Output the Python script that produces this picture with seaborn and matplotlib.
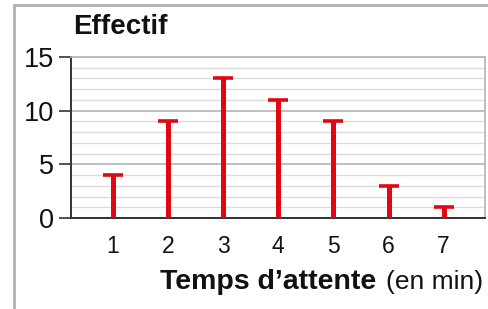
import numpy as np
import matplotlib
matplotlib.use("Agg")
import matplotlib.pyplot as plt
from matplotlib.lines import Line2D
from matplotlib.ticker import MultipleLocator
import seaborn as sns

# ----------------------------------------------------------
# Data
# ----------------------------------------------------------
temps = [1, 2, 3, 4, 5, 6, 7]
effectifs = [4, 9, 13, 11, 9, 3, 1]
y_ticks = [0, 5, 10, 15]

RED = "#e30613"
INK = "#111111"

sns.set_theme(style="white")
plt.rcParams["font.family"] = ["Liberation Sans", "DejaVu Sans"]
plt.rcParams["text.color"] = INK
plt.rcParams["xtick.color"] = INK
plt.rcParams["ytick.color"] = INK

fig = plt.figure(figsize=(4.89, 3.09), dpi=100)
ax = fig.add_axes([0.1452, 0.2945, 0.8466, 0.521])

# stems + caps
ax.vlines(temps, 0, effectifs, color=RED, linewidth=3.6, zorder=3)
sns.scatterplot(x=temps, y=effectifs, marker="_", s=200, color=RED,
                linewidth=2.6, ax=ax, zorder=4, legend=False)

ax.set_xlim(0.24, 7.75)
ax.set_ylim(0, 15)
ax.set_xticks(temps)
ax.set_yticks(y_ticks)
ax.yaxis.set_minor_locator(MultipleLocator(1))

ax.grid(which="minor", axis="y", color="#dcdcdc", linewidth=1.0)
ax.grid(which="major", axis="y", color="#b4b4b4", linewidth=1.2)
ax.set_axisbelow(True)

for side in ["top", "right"]:
    ax.spines[side].set_color("#b4b4b4")
    ax.spines[side].set_linewidth(1.2)
for side in ["left", "bottom"]:
    ax.spines[side].set_color("#333333")
    ax.spines[side].set_linewidth(1.4)

ax.tick_params(axis="y", which="major", left=True, length=8.5, width=1.2,
               color="#333333", labelcolor=INK, pad=4, labelsize=19.5)
ax.tick_params(axis="y", which="minor", left=False)
ax.tick_params(axis="x", bottom=False, length=0, pad=12, labelsize=16.5,
               labelcolor=INK)

# labels
fig.text(73 / 489, 1 - 27 / 309, "Effectif", fontsize=20, fontweight="bold",
         ha="left", va="center")
fig.text(160 / 489, 1 - 282 / 309, "Temps d\u2019attente", fontsize=20.5,
         fontweight="bold", ha="left", va="center")
fig.text(483 / 489, 1 - 282 / 309, "(en min)", fontsize=19,
         ha="right", va="center")

# outer frame (top and left edge)
fig.add_artist(Line2D([14 / 489, 14 / 489], [0, 1 - 5 / 309],
                      transform=fig.transFigure, color="#b0b0b0", linewidth=2))
fig.add_artist(Line2D([14 / 489, 1], [1 - 5 / 309, 1 - 5 / 309],
                      transform=fig.transFigure, color="#b0b0b0", linewidth=2))

fig.savefig("out.png", dpi=100)
